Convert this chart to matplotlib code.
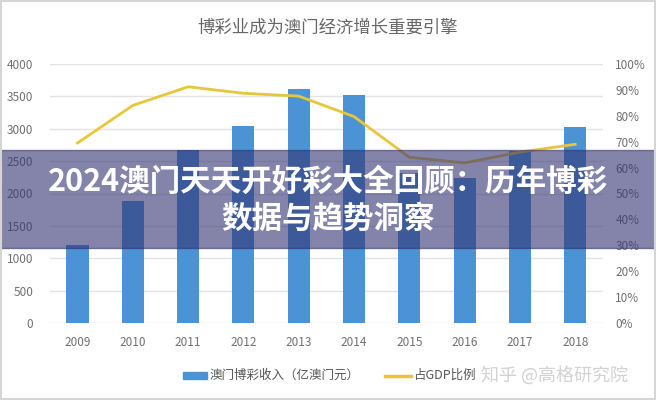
import matplotlib
matplotlib.use("Agg")
import matplotlib.pyplot as plt
from matplotlib.patches import Rectangle
from matplotlib.lines import Line2D
from matplotlib.ticker import FuncFormatter

plt.rcParams['font.family'] = ['Noto Sans CJK SC', 'DejaVu Sans']

years = ['2009', '2010', '2011', '2012', '2013', '2014', '2015', '2016', '2017', '2018']
revenue = [1203, 1883, 2679, 3041, 3607, 3515, 2318, 2232, 2657, 3029]
gdp_share = [69.5, 84, 91.2, 88.7, 87.6, 79.7, 64, 61.8, 66, 69]

title = '博彩业成为澳门经济增长重要引擎'
banner = '2024澳门天天开好彩大全回顾：历年博彩\n数据与趋势洞察'
bar_label = '澳门博彩收入（亿澳门元）'
line_label = '占GDP比例'
watermark = '知乎 @高格研究院'

bar_color = '#4b93d4'
line_color = '#e8c63c'
tick_color = '#707070'

fig = plt.figure(figsize=(6.56, 4.0), dpi=100)
ax = fig.add_axes([0.076, 0.1925, 0.843, 0.6475])
x = range(len(years))

ax.bar(x, revenue, width=0.4, color=bar_color, zorder=2)
ax.set_ylim(0, 4000)
ax.set_yticks(range(0, 4001, 500))
ax.set_xlim(-0.5, len(years) - 0.5)
ax.set_xticks(list(x))
ax.set_xticklabels(years)
ax.grid(axis='y', color='#e3e3e3', lw=1, zorder=0)
for s in ax.spines.values():
    s.set_visible(False)
ax.tick_params(length=0, colors=tick_color, labelsize=8.5)
ax.tick_params(axis='y', pad=12)
ax.tick_params(axis='x', pad=9)

ax2 = ax.twinx()
ax2.plot(list(x), gdp_share, color=line_color, lw=2, zorder=3)
ax2.set_ylim(0, 100)
ax2.set_yticks(range(0, 101, 10))
ax2.yaxis.set_major_formatter(FuncFormatter(lambda v, p: f'{int(v)}%'))
for s in ax2.spines.values():
    s.set_visible(False)
ax2.tick_params(length=0, colors=tick_color, labelsize=8.5, pad=9)

fig.text(0.5, 0.932, title, ha='center', va='center', fontsize=12.5, color='#666666')

# legend
fig.patches.append(Rectangle((0.279, 0.053), 0.037, 0.017, transform=fig.transFigure,
                             color=bar_color, figure=fig))
fig.text(0.319, 0.061, bar_label, ha='left', va='center', fontsize=9, color='#555555')
fig.lines.append(Line2D([0.587, 0.627], [0.061, 0.061], transform=fig.transFigure,
                        color=line_color, lw=2.5, figure=fig))
fig.text(0.629, 0.061, line_label, ha='left', va='center', fontsize=9, color='#555555')
fig.text(0.733, 0.061, watermark, ha='left', va='center', fontsize=13, color='#d2d2d2')

# banner overlay
fig.patches.append(Rectangle((0, 0.38), 1, 0.245, transform=fig.transFigure,
                             color=(0.2, 0.2, 0.45), alpha=0.6, zorder=10, figure=fig))
fig.text(0.5, 0.5, banner, ha='center', va='center', fontsize=22, color='white',
         fontweight='bold', linespacing=1.2, zorder=11)

# outer border
fig.patches.append(Rectangle((0.001, 0.002), 0.997, 0.996, transform=fig.transFigure,
                             fill=False, edgecolor='#d5d5d5', lw=1.5, zorder=12, figure=fig))

fig.savefig('out.png', dpi=100)
